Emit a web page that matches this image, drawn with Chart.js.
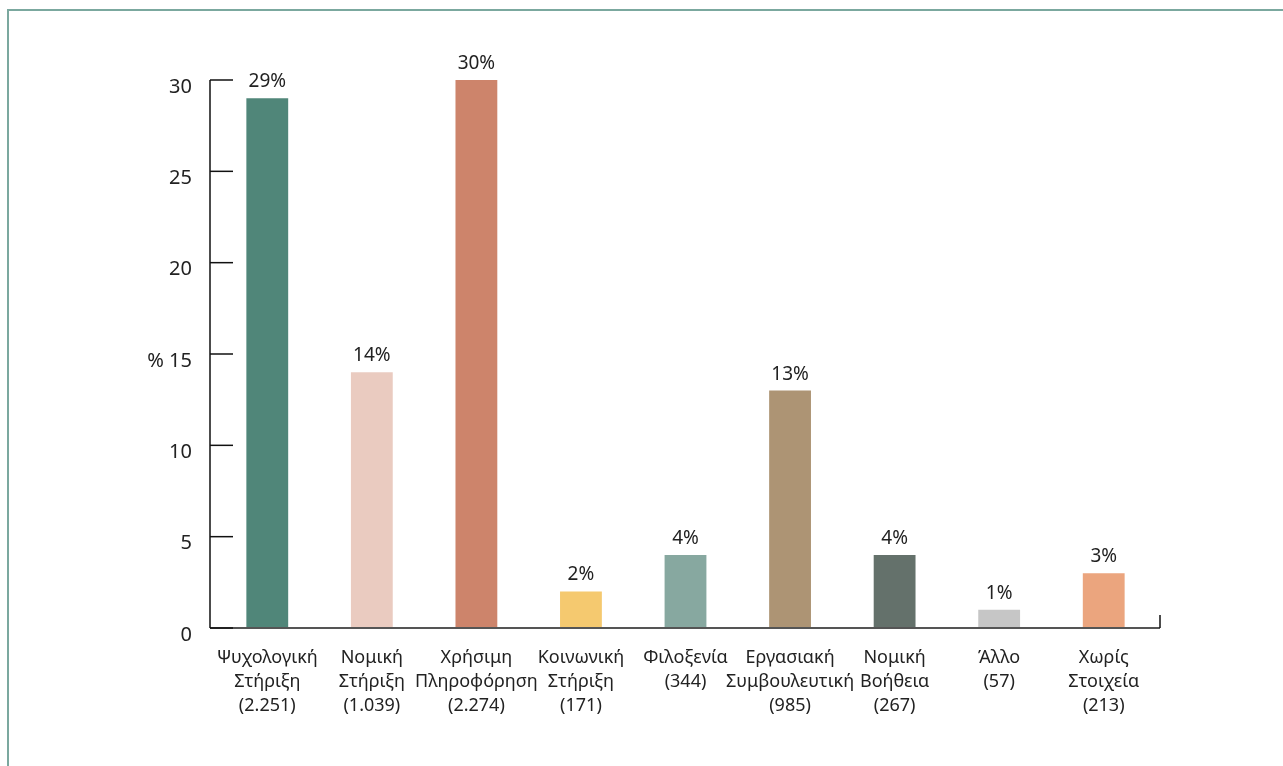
<!DOCTYPE html>
<html>
<head>
<meta charset="utf-8">
<script src="https://cdn.jsdelivr.net/npm/chart.js@4.4.1/dist/chart.umd.min.js"></script>
<style>
  body { margin: 0; background: #fff; }
  .frame {
    position: absolute; left: 7px; top: 9px; right: 0; bottom: 0;
    border-top: 2px solid #7ba89f; border-left: 2px solid #7ba89f;
  }
  #chart { position: absolute; left: 0; top: 0; }
</style>
</head>
<body>
<div class="frame"></div>
<canvas id="chart" width="1283" height="766"></canvas>
<script>
// categories (multi-line labels, counts in brackets)
const categories = [
  ['Ψυχολογική', 'Στήριξη', '(2.251)'],
  ['Νομική', 'Στήριξη', '(1.039)'],
  ['Χρήσιμη', 'Πληροφόρηση', '(2.274)'],
  ['Κοινωνική', 'Στήριξη', '(171)'],
  ['Φιλοξενία', '(344)'],
  ['Εργασιακή', 'Συμβουλευτική', '(985)'],
  ['Νομική', 'Βοήθεια', '(267)'],
  ['Άλλο', '(57)'],
  ['Χωρίς', 'Στοιχεία', '(213)']
];
const percents = [29, 14, 30, 2, 4, 13, 4, 1, 3];
const barColors = ['#508679', '#eacbc0', '#cd846b', '#f5c96f', '#87a8a0', '#ad9474', '#64716b', '#c6c6c6', '#eba57e'];
const yTicks = [0, 5, 10, 15, 20, 25, 30];

const FONT = '"Noto Sans", "Open Sans", sans-serif';

// axis lines, tick marks and value labels
const axesAndLabels = {
  id: 'axesAndLabels',
  afterDatasetsDraw(chart) {
    const ctx = chart.ctx;
    const y = chart.scales.y;
    const area = chart.chartArea;
    const y0 = y.getPixelForValue(0);
    const axisX = area.left - 5;
    ctx.save();
    // x axis line
    ctx.strokeStyle = '#555';
    ctx.lineWidth = 2;
    ctx.beginPath();
    ctx.moveTo(axisX, y0);
    ctx.lineTo(area.right + 4, y0);
    ctx.stroke();
    // small end tick
    ctx.strokeStyle = '#111';
    ctx.lineWidth = 1.5;
    ctx.beginPath();
    ctx.moveTo(area.right + 4, y0);
    ctx.lineTo(area.right + 4, y0 - 13);
    ctx.stroke();
    // y axis line
    ctx.beginPath();
    ctx.moveTo(axisX, y.getPixelForValue(30));
    ctx.lineTo(axisX, y0);
    ctx.stroke();
    // y tick marks (inward)
    yTicks.forEach(v => {
      const py = y.getPixelForValue(v);
      ctx.beginPath();
      ctx.moveTo(axisX, py);
      ctx.lineTo(axisX + 23, py);
      ctx.stroke();
    });
    // value labels
    ctx.fillStyle = '#222';
    ctx.font = '19px ' + FONT;
    ctx.textAlign = 'center';
    ctx.textBaseline = 'alphabetic';
    const meta = chart.getDatasetMeta(0);
    meta.data.forEach((bar, i) => {
      ctx.fillText(percents[i] + '%', bar.x, bar.y - 11);
    });
    ctx.restore();
  }
};

new Chart(document.getElementById('chart'), {
  type: 'bar',
  data: {
    labels: categories,
    datasets: [{
      data: percents,
      backgroundColor: barColors,
      categoryPercentage: 1,
      barPercentage: 0.4
    }]
  },
  options: {
    responsive: false,
    animation: false,
    layout: { padding: { left: 0, top: 80, right: 127, bottom: 0 } },
    plugins: {
      legend: { display: false },
      tooltip: { enabled: false }
    },
    scales: {
      x: {
        grid: { display: false },
        border: { display: false },
        afterFit: (scale) => { scale.height = 138; },
        ticks: {
          color: '#222',
          font: { family: FONT, size: 18, lineHeight: 1.33 },
          padding: 10,
          maxRotation: 0,
          autoSkip: false
        }
      },
      y: {
        min: 0,
        max: 30,
        grid: { display: false },
        border: { display: false },
        afterFit: (scale) => { scale.width = 215; },
        ticks: {
          stepSize: 5,
          color: '#222',
          font: { family: FONT, size: 20 },
          padding: 15,
          labelOffset: 7,
          callback: (v) => v === 15 ? '% 15' : v
        }
      }
    }
  },
  plugins: [axesAndLabels]
});
</script>
</body>
</html>
